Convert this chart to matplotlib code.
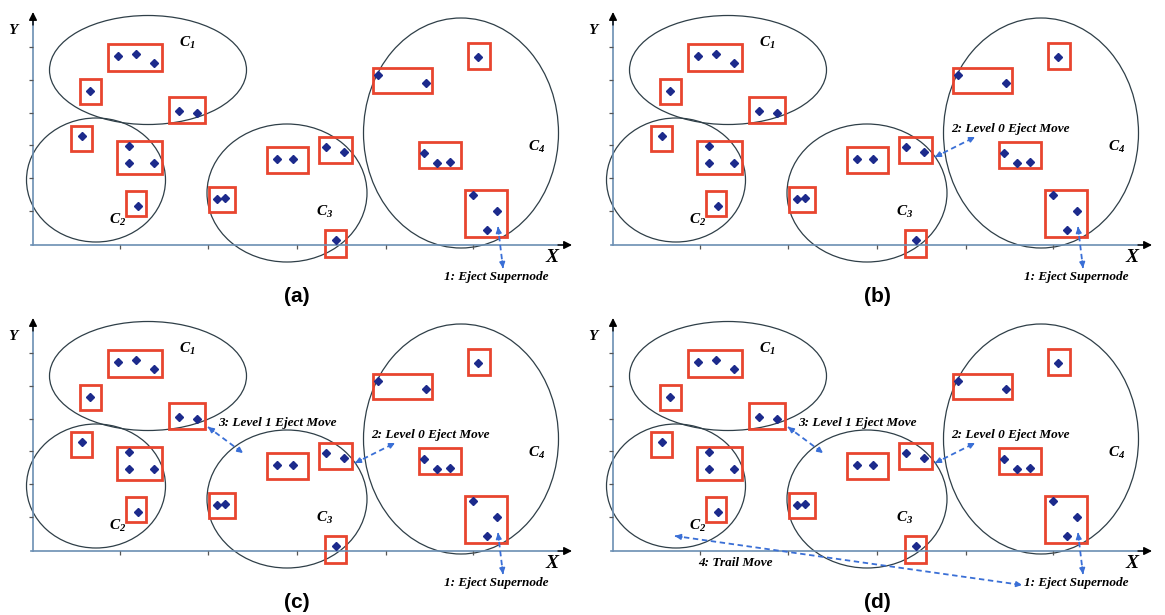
import numpy as np
import matplotlib
matplotlib.use("Agg")
import matplotlib.pyplot as plt
from matplotlib.patches import Ellipse, Rectangle

plt.rcParams['mathtext.fontset'] = 'custom'
plt.rcParams['mathtext.rm'] = 'Liberation Serif:bold:italic'
plt.rcParams['mathtext.it'] = 'Liberation Serif:bold:italic'

# clusters (centre x, centre y, width, height) in panel units
cluster_names = [r'$C_1$', r'$C_2$', r'$C_3$', r'$C_4$']
cluster_centres = [(115, 175), (63, 65), (254, 52), (428, 112)]
cluster_widths = [197, 139, 160, 195]
cluster_heights = [109, 124, 138, 230]
cluster_label_pos = [(154, 202), (85, 25), (292, 33), (504, 98)]

# supernode boxes (x0, x1, y0, y1) and the nodes inside them
boxes = [
    (75, 129, 174, 201), (47, 68, 141, 166), (136, 172, 122, 148),
    (38, 59, 94, 119), (84, 129, 71, 104), (93, 113, 29, 54),
    (176, 202, 33, 58), (234, 275, 72, 98), (286, 319, 82, 108),
    (292, 313, -12, 15), (340, 399, 152, 177), (435, 457, 176, 202),
    (386, 428, 77, 103), (432, 474, 8, 55),
]
nodes_x = [85, 103, 121, 57, 146, 164, 49, 96, 96, 121, 105, 184, 192,
           244, 260, 293, 311, 303, 345, 393, 445, 391, 404, 417, 440, 464, 454]
nodes_y = [189, 191, 182, 154, 134, 132, 109, 99, 82, 82, 39, 46, 47,
           86, 86, 98, 93, 5, 170, 162, 188, 92, 82, 83, 50, 34, 15]

x_ticks = [87, 175, 264, 353, 440]
y_ticks = [34, 67, 100, 132, 165, 198]

# moves: (start, end, label, label position)
moves = [
    ((465, 18), (470, -23), "1: Eject Supernode", (463, -32)),
    ((322, 88), (362, 108), "2: Level 0 Eject Move", (397, 116)),
    ((175, 124), (210, 98), "3: Level 1 Eject Move", (244, 128)),
    ((62, 15), (409, -34), "4: Trail Move", (122, -12)),
]
move_heads = [(True, True), (True, True), (True, True), (True, True)]

panels = ["(a)", "(b)", "(c)", "(d)"]
moves_shown = [1, 2, 3, 4]
origins = [(33, 245), (613, 245), (33, 551), (613, 551)]

W, H = 1165, 615
XMIN, XMAX, YMIN, YMAX = -33, 547, -62, 245

RED = "#e8452f"
NAVY = "#1c2a8c"
AXC = "#6b8fb3"
BLUE = "#3a6fd6"
serif = dict(family="Liberation Serif", weight="bold", style="italic")

fig = plt.figure(figsize=(W / 100, H / 100), dpi=100)


def dashed_arrow(ax, p0, p1, heads):
    p0 = np.array(p0, float)
    p1 = np.array(p1, float)
    ax.plot([p0[0], p1[0]], [p0[1], p1[1]], color=BLUE, lw=1.3,
            ls=(0, (3, 2)), clip_on=False)
    d = (p1 - p0) / np.linalg.norm(p1 - p0)
    for show, tip, sgn in [(heads[0], p0, -1), (heads[1], p1, 1)]:
        if show:
            ax.annotate("", xy=tip, xytext=tip - sgn * d * 7,
                        arrowprops=dict(arrowstyle="-|>", color=BLUE, lw=1.2,
                                        mutation_scale=8, shrinkA=0, shrinkB=0),
                        annotation_clip=False)


for k, (ox, oy) in enumerate(origins):
    left = (ox + XMIN) / W
    bottom = 1 - (oy - YMIN) / H
    ax = fig.add_axes([left, bottom, (XMAX - XMIN) / W, (YMAX - YMIN) / H])
    ax.set_xlim(XMIN, XMAX)
    ax.set_ylim(YMIN, YMAX)
    ax.axis("off")

    # axes with arrows
    ax.plot([-2, 530], [0, 0], color=AXC, lw=1.2, clip_on=False)
    ax.plot([0, 0], [0, 225], color=AXC, lw=1.2, clip_on=False)
    ax.annotate("", xy=(539, 0), xytext=(525, 0),
                arrowprops=dict(arrowstyle="-|>", color="black", lw=1,
                                mutation_scale=12, shrinkA=0, shrinkB=0))
    ax.annotate("", xy=(0, 233), xytext=(0, 220),
                arrowprops=dict(arrowstyle="-|>", color="black", lw=1,
                                mutation_scale=12, shrinkA=0, shrinkB=0))
    ax.vlines(x_ticks, -4, 0, color="#555555", lw=0.9)
    ax.hlines(y_ticks, -4, 0, color="#555555", lw=0.9)
    ax.text(519, -12, "X", fontsize=14, ha="center", va="center", **serif)
    ax.text(-20, 215, "Y", fontsize=11, ha="center", va="center", **serif)

    for c, w, h in zip(cluster_centres, cluster_widths, cluster_heights):
        ax.add_patch(Ellipse(c, w, h, fill=False, ec="#2f3f48", lw=0.9,
                             clip_on=False))
    for name, pos in zip(cluster_names, cluster_label_pos):
        ax.text(pos[0], pos[1], name, fontsize=11, ha="center", va="center")

    for x0, x1, y0, y1 in boxes:
        ax.add_patch(Rectangle((x0, y0), x1 - x0, y1 - y0, fill=False,
                               ec=RED, lw=2.0, clip_on=False))
    ax.plot(nodes_x, nodes_y, "D", color=NAVY, ms=3.6, mec=NAVY,
            clip_on=False)

    for (p0, p1, label, lpos), heads in zip(moves[:moves_shown[k]],
                                            move_heads):
        dashed_arrow(ax, p0, p1, heads)
        ax.text(lpos[0], lpos[1], label, fontsize=9.5, ha="center",
                va="center", **serif)

    ax.text(264, -51, panels[k], fontsize=15, weight="bold",
            family="Liberation Sans", ha="center", va="center")

fig.savefig("out.png", dpi=100)
